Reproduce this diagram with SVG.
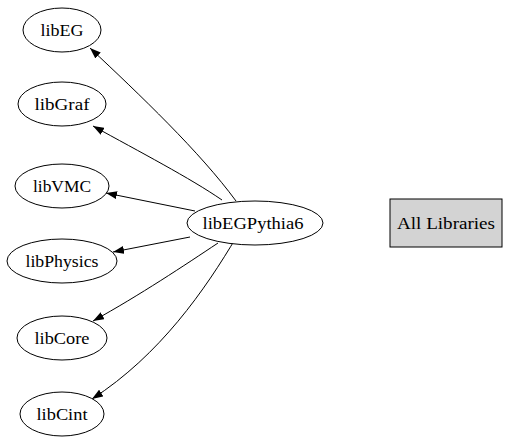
<svg xmlns="http://www.w3.org/2000/svg" width="515" height="445" viewBox="0 0 515 445">
<style>
.n ellipse{fill:#fff;stroke:#000;stroke-width:1}
.n text,.b text{font-family:"Liberation Serif","Times New Roman",serif;font-size:17px;text-anchor:middle;fill:#000}
.e path{fill:none;stroke:#000;stroke-width:1;marker-end:url(#ah)}
</style>
<defs>
<marker id="ah" viewBox="0 0 11 8" refX="11" refY="4" markerUnits="userSpaceOnUse" markerWidth="11" markerHeight="8" orient="auto">
<polygon points="0,0 11,4 0,8" fill="#000"/>
</marker>
</defs>
<rect width="515" height="445" fill="#fff"/>
<g class="e" id="edges">
<path d="M236,201 C200,152 140,95 90,48"/>
<path d="M222,200 C190,178 140,152 93,126"/>
<path d="M195,211 L106,193"/>
<path d="M190,237 L113,252"/>
<path d="M218,243 C185,265 140,295 93,321"/>
<path d="M237,236 C205,290 160,355 92,399"/>
</g>
<g class="n" id="libEG"><ellipse cx="62" cy="30" rx="39" ry="22"/><text x="62" y="36" textLength="43" lengthAdjust="spacingAndGlyphs">libEG</text></g>
<g class="n" id="libGraf"><ellipse cx="62" cy="104" rx="44" ry="22"/><text x="62" y="110" textLength="55" lengthAdjust="spacingAndGlyphs">libGraf</text></g>
<g class="n" id="libVMC"><ellipse cx="62" cy="186" rx="47" ry="22"/><text x="62" y="192" textLength="58" lengthAdjust="spacingAndGlyphs">libVMC</text></g>
<g class="n" id="libPhysics"><ellipse cx="62" cy="261" rx="55" ry="22"/><text x="62" y="267" textLength="73" lengthAdjust="spacingAndGlyphs">libPhysics</text></g>
<g class="n" id="libCore"><ellipse cx="62" cy="338" rx="45" ry="22"/><text x="62" y="344" textLength="55" lengthAdjust="spacingAndGlyphs">libCore</text></g>
<g class="n" id="libCint"><ellipse cx="62" cy="414" rx="42" ry="22"/><text x="62" y="420" textLength="51" lengthAdjust="spacingAndGlyphs">libCint</text></g>
<g class="n" id="libEGPythia6"><ellipse cx="255" cy="223" rx="68" ry="22"/><text x="253" y="229" textLength="101" lengthAdjust="spacingAndGlyphs">libEGPythia6</text></g>
<g class="b" id="AllLibraries"><rect x="390" y="199" width="112" height="48" fill="#d3d3d3" stroke="#000"/><text x="446" y="229" textLength="98" lengthAdjust="spacingAndGlyphs">All Libraries</text></g>
</svg>
